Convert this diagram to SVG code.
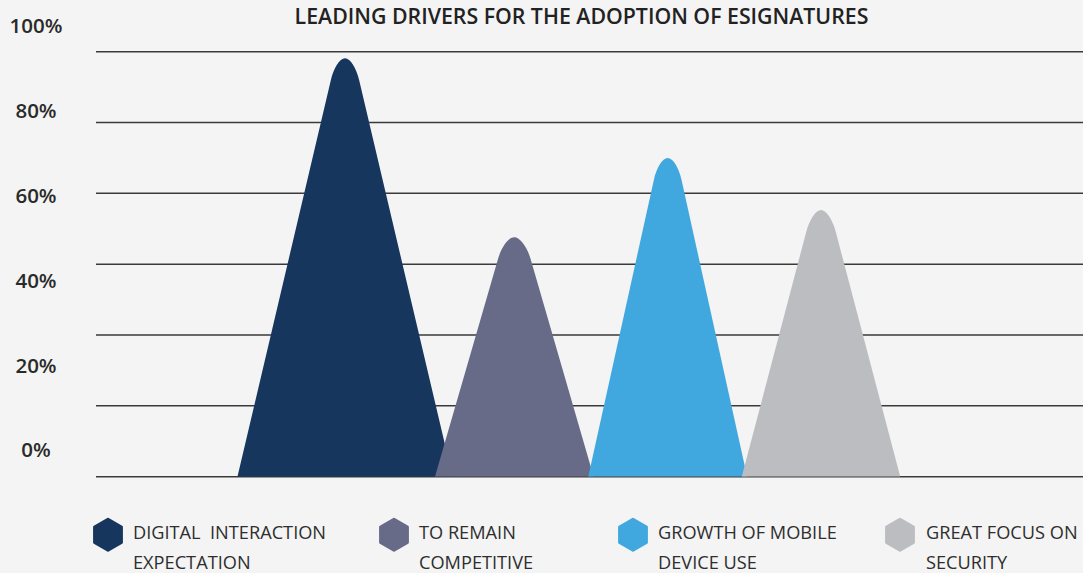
<svg xmlns="http://www.w3.org/2000/svg" xmlns:xlink="http://www.w3.org/1999/xlink" width="1083" height="573" viewBox="0 0 1083 573">
  <style>
    .bg { fill: #f3f4f3; }
    .title { font-family: "Open Sans", "Liberation Sans", sans-serif; font-weight: 600; font-size: 21.3px; fill: #222222; }
    .ylab { font-family: "Open Sans", "Liberation Sans", sans-serif; font-weight: 600; font-size: 20.5px; fill: #2a2a2a; text-anchor: middle; }
    .grid { stroke: #3a3a3a; stroke-width: 1.5; fill: none; }
    .leg { font-family: "Open Sans", "Liberation Sans", sans-serif; font-weight: 400; font-size: 18.2px; fill: #2e2e2e; }
    .c1 { fill: #17365d; stroke: #17365d; }
    .c2 { fill: #676b88; stroke: #676b88; }
    .c3 { fill: #41a8df; stroke: #41a8df; }
    .c4 { fill: #bcbdc1; stroke: #bcbdc1; }
    .peak { stroke: none; }
    .hex { stroke-width: 3; stroke-linejoin: round; }
  </style>
  <defs>
    <polygon id="hexShape" points="0,-15.5 13.42,-7.75 13.42,7.75 0,15.5 -13.42,7.75 -13.42,-7.75"/>
  </defs>
  <rect class="bg" x="0" y="0" width="1083" height="573"/>

  <g id="title">
    <text class="title" x="581.5" y="23.8" text-anchor="middle">LEADING DRIVERS FOR THE ADOPTION OF ESIGNATURES</text>
  </g>

  <g id="gridlines">
    <line class="grid" x1="96" y1="51.7" x2="1083" y2="51.7"/>
    <line class="grid" x1="96" y1="122.5" x2="1083" y2="122.5"/>
    <line class="grid" x1="96" y1="193.3" x2="1083" y2="193.3"/>
    <line class="grid" x1="96" y1="264.2" x2="1083" y2="264.2"/>
    <line class="grid" x1="96" y1="335" x2="1083" y2="335"/>
    <line class="grid" x1="96" y1="405.8" x2="1083" y2="405.8"/>
    <line class="grid" x1="96" y1="476.8" x2="1083" y2="476.8"/>
  </g>

  <g id="axis-labels">
    <text class="ylab" x="36" y="33.3">100%</text>
    <text class="ylab" x="36" y="118.1">80%</text>
    <text class="ylab" x="36" y="202.9">60%</text>
    <text class="ylab" x="36" y="287.7">40%</text>
    <text class="ylab" x="36" y="372.5">20%</text>
    <text class="ylab" x="36" y="457.3">0%</text>
  </g>

  <g id="peaks">
    <g id="peak-digital-interaction">
      <path class="peak c1" d="M237.5,476.5 L330.82,80.3 C333.67,68.2 339.6,58.3 345,58.3 C350.4,58.3 356.33,68.2 359.18,80.3 L452.5,476.5 Z"/>
    </g>
    <g id="peak-remain-competitive">
      <path class="peak c2" d="M435,476.5 L497.93,259.3 C501.43,247.2 508.3,237.3 514.3,237.3 C520.3,237.3 527.17,247.2 530.67,259.3 L593.6,476.5 Z"/>
    </g>
    <g id="peak-mobile-device">
      <path class="peak c3" d="M588.3,476.5 L653.84,180 C656.51,167.9 662.3,158 667.7,158 C673.1,158 678.89,167.9 681.56,180 L747.1,476.5 Z"/>
    </g>
    <g id="peak-security">
      <path class="peak c4" d="M741.8,476.5 L806.2,232 C809.39,219.9 815.6,210 821,210 C826.4,210 832.61,219.9 835.8,232 L900.2,476.5 Z"/>
    </g>
  </g>

  <g id="legend">
    <g id="legend-digital-interaction">
      <use xlink:href="#hexShape" href="#hexShape" class="hex c1" x="108" y="534.7"/>
      <text class="leg" x="133" y="538.5" xml:space="preserve">DIGITAL  INTERACTION</text>
      <text class="leg" x="133" y="568.5">EXPECTATION</text>
    </g>
    <g id="legend-remain-competitive">
      <use xlink:href="#hexShape" href="#hexShape" class="hex c2" x="394" y="534.7"/>
      <text class="leg" x="419" y="538.5">TO REMAIN</text>
      <text class="leg" x="419" y="568.5">COMPETITIVE</text>
    </g>
    <g id="legend-mobile-device">
      <use xlink:href="#hexShape" href="#hexShape" class="hex c3" x="633" y="534.7"/>
      <text class="leg" x="658" y="538.5">GROWTH OF MOBILE</text>
      <text class="leg" x="658" y="568.5">DEVICE USE</text>
    </g>
    <g id="legend-security">
      <use xlink:href="#hexShape" href="#hexShape" class="hex c4" x="900" y="534.7"/>
      <text class="leg" x="926" y="538.5">GREAT FOCUS ON</text>
      <text class="leg" x="926" y="568.5">SECURITY</text>
    </g>
  </g>
</svg>
